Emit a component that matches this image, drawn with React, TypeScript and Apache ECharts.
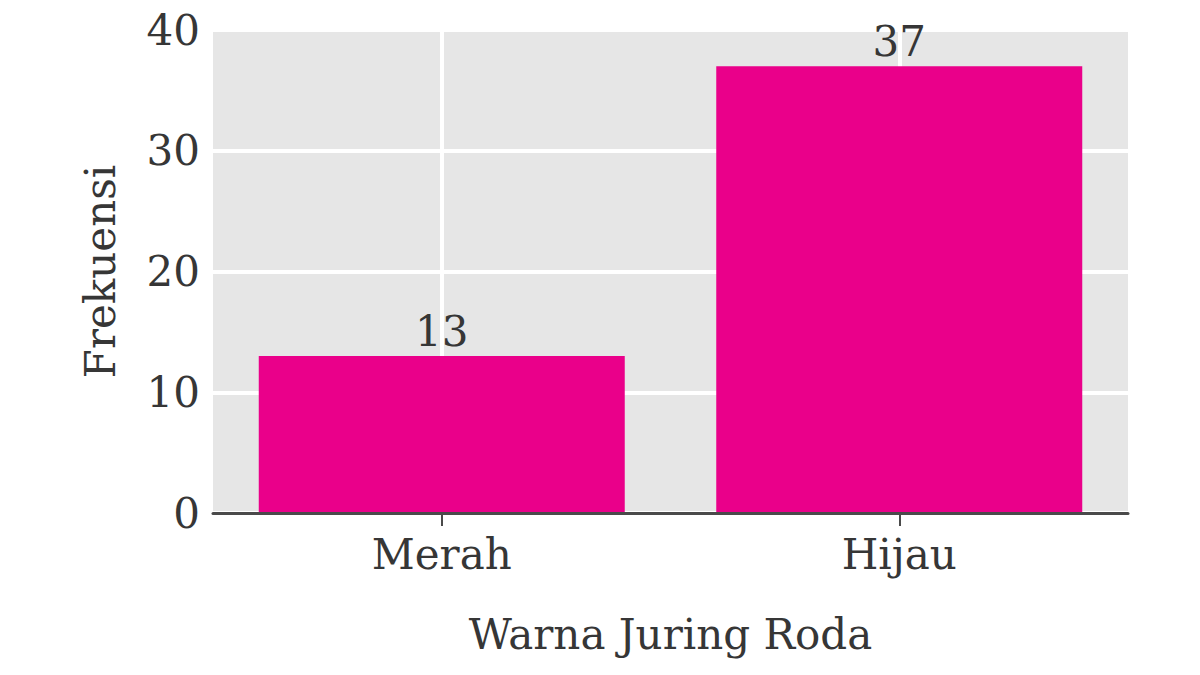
import React, { useEffect, useRef } from "react";
import * as echarts from "echarts";

const categories = ["Merah", "Hijau"];
const frequencies = [13, 37];
const yTicks = [0, 10, 20, 30, 40];
const xAxisTitle = "Warna Juring Roda";
const yAxisTitle = "Frekuensi";

const FONT = "DejaVu Serif";
const TEXT = "#363636";

export default function App() {
  const ref = useRef<HTMLDivElement>(null);
  useEffect(() => {
    if (!ref.current) return;
    const chart = echarts.init(ref.current, undefined, { renderer: "svg" });
    chart.setOption({
      animation: false,
      textStyle: { fontFamily: FONT },
      grid: {
        left: 213,
        right: 72,
        top: 30,
        bottom: 162,
        show: true,
        backgroundColor: "#e6e6e6",
        borderWidth: 0,
      },
      xAxis: [
        {
          type: "category",
          data: categories,
          name: xAxisTitle,
          nameLocation: "middle",
          nameGap: 100,
          nameTextStyle: { fontFamily: FONT, fontSize: 42, color: TEXT },
          axisLine: { lineStyle: { color: "#4a4a4a", width: 3 } },
          axisTick: { show: true, alignWithLabel: true, length: 13, lineStyle: { color: "#4a4a4a", width: 2 } },
          axisLabel: { fontFamily: FONT, fontSize: 42, color: TEXT, margin: 20 },
          splitLine: { show: false },
          z: 5,
        },
        {
          type: "category",
          data: ["", "", "", "", ""],
          boundaryGap: false,
          position: "bottom",
          axisLine: { show: false },
          axisTick: { show: false },
          axisLabel: { show: false },
          splitLine: {
            show: true,
            interval: (index: number) => index % 2 === 1,
            lineStyle: { color: "#ffffff", width: 4 },
          },
        },
      ],
      yAxis: {
        type: "value",
        min: yTicks[0],
        max: yTicks[yTicks.length - 1],
        interval: 10,
        name: yAxisTitle,
        nameLocation: "middle",
        nameGap: 92,
        nameTextStyle: { fontFamily: FONT, fontSize: 42, color: TEXT },
        axisLine: { show: false },
        axisTick: { show: false },
        axisLabel: { fontFamily: FONT, fontSize: 42, color: TEXT, margin: 13 },
        splitLine: { show: true, lineStyle: { color: "#ffffff", width: 4 } },
      },
      series: [
        {
          type: "bar",
          xAxisIndex: 0,
          data: frequencies,
          barWidth: "80%",
          itemStyle: { color: "#ea008a" },
          label: {
            show: true,
            position: "top",
            distance: 4,
            fontFamily: FONT,
            fontSize: 42,
            color: TEXT,
          },
        },
      ],
    });
    return () => chart.dispose();
  }, []);
  return <div ref={ref} style={{ width: 1200, height: 675, position: "absolute", left: 0, top: 0, background: "#fff" }} />;
}
